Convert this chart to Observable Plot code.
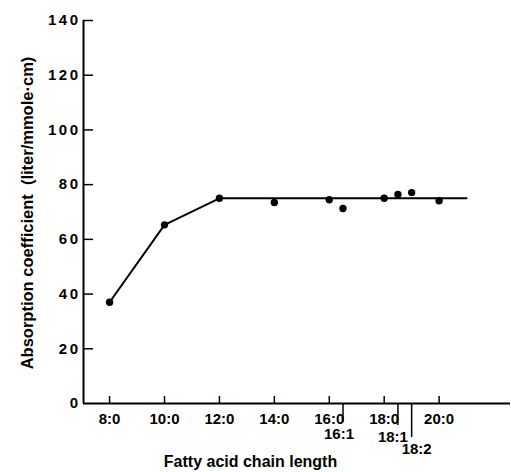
<!DOCTYPE html>
<html><head><meta charset="utf-8">
<script src="https://cdn.jsdelivr.net/npm/d3@7"></script>
<script src="https://cdn.jsdelivr.net/npm/@observablehq/plot@0.6"></script>
<style>body{margin:0;background:#fff}</style>
</head><body><div id="chart"></div>
<script>
// Data
const acids = ["8:0","10:0","12:0","14:0","16:0","16:1","18:0","18:1","18:2","20:0"];
const chainPos = [8,10,12,14,16,16.5,18,18.5,19,20];
const absorption = [37,65.3,75,73.5,74.5,71.3,75,76.4,77.1,74.1];
const fitX = [8,10,12,21];
const fitY = [37,65.3,75,75];
const yTicks = [0,20,40,60,80,100,120,140];
const mainTicks = [8,10,12,14,16,18,20];
const mainLabels = ["8:0","10:0","12:0","14:0","16:0","18:0","20:0"];
const extraTicks = [16.5,18.5,19];
const extraLabels = ["16:1","18:1","18:2"];
const xTitle = "Fatty acid chain length";
const yTitle = "Absorption coefficient  (liter/mmole·cm)";

const points = acids.map((a,i)=>({acid:a, x:chainPos[i], y:absorption[i]}));
const fit = fitX.map((x,i)=>({x, y:fitY[i]}));

const W = 511, H = 472, mL = 83, mR = 1, mT = 20, mB = 69;
const innerW = W - mL - mR, innerH = H - mT - mB;
const xDomain = [7.05, 22.6];

// per-extra-tick style (length, label shift)
const extraStyle = [{len:19, dx:-4}, {len:22, dx:-5}, {len:34, dx:5}];

const marks = [
  Plot.ruleY([0], {strokeWidth:2}),
  Plot.ruleX([xDomain[0]], {strokeWidth:2}),
  Plot.tickY(yTicks.slice(1), {y:d=>d, insetRight: innerW - 10, strokeWidth:1.5}),
  Plot.tickX(mainTicks, {x:d=>d, insetTop: innerH - 7, strokeWidth:1.5}),
  Plot.axisY(yTicks, {tickSize:0, tickPadding:3, label:null, fontSize:15, fontWeight:"bold", fill:"#000"}),
  Plot.axisX(mainTicks, {tickSize:0, tickPadding:10, label:null, fontSize:15, fontWeight:"bold",
    tickFormat: d => mainLabels[mainTicks.indexOf(d)]}),
  ...extraTicks.map((t,i)=>Plot.axisX([t], {tickSize: extraStyle[i].len, tickFormat: ()=>"", label:null, strokeWidth:1.5})),
  ...extraTicks.map((t,i)=>Plot.axisX([t], {tickSize:0, tickPadding: extraStyle[i].len + 6, dx: extraStyle[i].dx,
    label:null, fontSize:15, fontWeight:"bold", tickFormat: d => extraLabels[extraTicks.indexOf(d)]})),
  Plot.line(fit, {x:"x", y:"y", stroke:"#000", strokeWidth:2}),
  Plot.dot(points, {x:"x", y:"y", r:3.7, fill:"#000", stroke:"none"}),
  Plot.text([xTitle], {frameAnchor:"bottom", dy:52, dx:-46.5, lineAnchor:"top", textAnchor:"middle", fontSize:16, fontWeight:"bold", fill:"#000"}),
  Plot.text([yTitle], {frameAnchor:"left", rotate:-90, dx:-62, dy:1, lineAnchor:"top", textAnchor:"middle", fontSize:16.5, fontWeight:"bold", fill:"#000"})
];

const chart = Plot.plot({
  width: W, height: H,
  marginLeft: mL, marginRight: mR, marginTop: mT, marginBottom: mB,
  style: {fontFamily: "'Liberation Sans', Arial, sans-serif", fontSize: "14px", color:"#000", background:"#fff"},
  x: {domain: xDomain, axis: null},
  y: {domain: [0,140], axis: null},
  marks
});
document.getElementById("chart").appendChild(chart);
d3.select(chart).selectAll('[aria-label="y-axis tick label"] text').style("letter-spacing","2.5px");
</script>
</body></html>
